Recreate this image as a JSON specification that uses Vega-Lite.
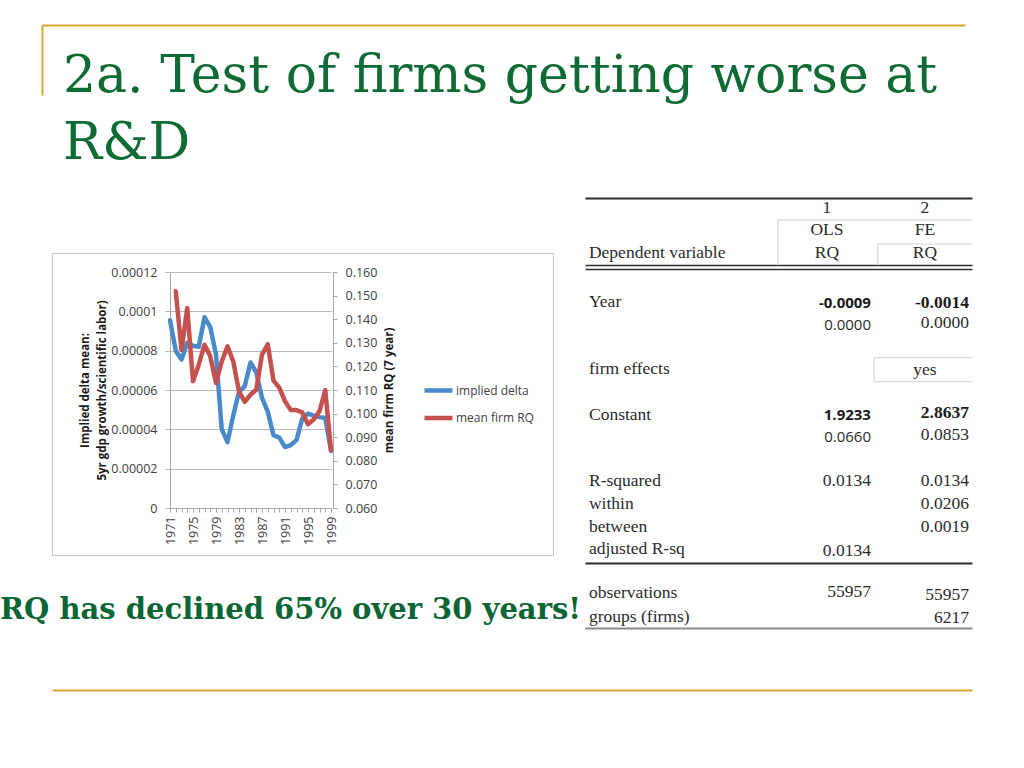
{
  "$schema": "https://vega.github.io/schema/vega-lite/v6.json",
  "width": 1024,
  "height": 768,
  "autosize": {"type": "fit", "contains": "padding"},
  "padding": 0,
  "background": "#ffffff",
  "config": {
    "view": {"stroke": null},
    "axis": {"labelFont": "Open Sans", "titleFont": "Open Sans"}
  },
  "datasets": {
    "frame": [{"pos": 0}, {"pos": 1}],
    "slideTitle": [{"pos": 0, "text": "2a. Test of firms getting worse at\nR&D"}],
    "slideNote": [{"pos": 0, "text": "RQ has declined 65% over 30 years!"}],
    "series": [
      {"year": 1971, "series": "implied delta", "value": 0.0000955},
      {"year": 1972, "series": "implied delta", "value": 0.0000800},
      {"year": 1973, "series": "implied delta", "value": 0.0000755},
      {"year": 1974, "series": "implied delta", "value": 0.0000840},
      {"year": 1975, "series": "implied delta", "value": 0.0000825},
      {"year": 1976, "series": "implied delta", "value": 0.0000820},
      {"year": 1977, "series": "implied delta", "value": 0.0000970},
      {"year": 1978, "series": "implied delta", "value": 0.0000920},
      {"year": 1979, "series": "implied delta", "value": 0.0000780},
      {"year": 1980, "series": "implied delta", "value": 0.0000400},
      {"year": 1981, "series": "implied delta", "value": 0.0000335},
      {"year": 1982, "series": "implied delta", "value": 0.0000470},
      {"year": 1983, "series": "implied delta", "value": 0.0000590},
      {"year": 1984, "series": "implied delta", "value": 0.0000620},
      {"year": 1985, "series": "implied delta", "value": 0.0000740},
      {"year": 1986, "series": "implied delta", "value": 0.0000690},
      {"year": 1987, "series": "implied delta", "value": 0.0000560},
      {"year": 1988, "series": "implied delta", "value": 0.0000490},
      {"year": 1989, "series": "implied delta", "value": 0.0000370},
      {"year": 1990, "series": "implied delta", "value": 0.0000358},
      {"year": 1991, "series": "implied delta", "value": 0.0000310},
      {"year": 1992, "series": "implied delta", "value": 0.0000320},
      {"year": 1993, "series": "implied delta", "value": 0.0000345},
      {"year": 1994, "series": "implied delta", "value": 0.0000455},
      {"year": 1995, "series": "implied delta", "value": 0.0000480},
      {"year": 1996, "series": "implied delta", "value": 0.0000470},
      {"year": 1997, "series": "implied delta", "value": 0.0000462},
      {"year": 1998, "series": "implied delta", "value": 0.0000458},
      {"year": 1999, "series": "implied delta", "value": 0.0000290},
      {"year": 1972, "series": "mean firm RQ", "value": 0.1518},
      {"year": 1973, "series": "mean firm RQ", "value": 0.1270},
      {"year": 1974, "series": "mean firm RQ", "value": 0.1447},
      {"year": 1975, "series": "mean firm RQ", "value": 0.1137},
      {"year": 1976, "series": "mean firm RQ", "value": 0.1207},
      {"year": 1977, "series": "mean firm RQ", "value": 0.1292},
      {"year": 1978, "series": "mean firm RQ", "value": 0.1243},
      {"year": 1979, "series": "mean firm RQ", "value": 0.1130},
      {"year": 1980, "series": "mean firm RQ", "value": 0.1221},
      {"year": 1981, "series": "mean firm RQ", "value": 0.1285},
      {"year": 1982, "series": "mean firm RQ", "value": 0.1221},
      {"year": 1983, "series": "mean firm RQ", "value": 0.1094},
      {"year": 1984, "series": "mean firm RQ", "value": 0.1050},
      {"year": 1985, "series": "mean firm RQ", "value": 0.1080},
      {"year": 1986, "series": "mean firm RQ", "value": 0.1101},
      {"year": 1987, "series": "mean firm RQ", "value": 0.1250},
      {"year": 1988, "series": "mean firm RQ", "value": 0.1294},
      {"year": 1989, "series": "mean firm RQ", "value": 0.1140},
      {"year": 1990, "series": "mean firm RQ", "value": 0.1110},
      {"year": 1991, "series": "mean firm RQ", "value": 0.1052},
      {"year": 1992, "series": "mean firm RQ", "value": 0.1015},
      {"year": 1993, "series": "mean firm RQ", "value": 0.1015},
      {"year": 1994, "series": "mean firm RQ", "value": 0.1005},
      {"year": 1995, "series": "mean firm RQ", "value": 0.0955},
      {"year": 1996, "series": "mean firm RQ", "value": 0.0975},
      {"year": 1997, "series": "mean firm RQ", "value": 0.1010},
      {"year": 1998, "series": "mean firm RQ", "value": 0.1100},
      {"year": 1999, "series": "mean firm RQ", "value": 0.0845}
    ],
    "table": [
      {"row": 0, "col": 1, "kind": "head", "text": "1"},
      {"row": 0, "col": 2, "kind": "head", "text": "2"},
      {"row": 1, "col": 1, "kind": "head", "text": "OLS"},
      {"row": 1, "col": 2, "kind": "head", "text": "FE"},
      {"row": 2, "col": 0, "kind": "label", "text": "Dependent variable"},
      {"row": 2, "col": 1, "kind": "head", "text": "RQ"},
      {"row": 2, "col": 2, "kind": "head", "text": "RQ"},
      {"row": 4.13, "col": 0, "kind": "label", "text": "Year"},
      {"row": 4.2, "col": 1, "kind": "bsans", "text": "-0.0009"},
      {"row": 4.17, "col": 2, "kind": "bserif", "text": "-0.0014"},
      {"row": 5.15, "col": 1, "kind": "sans", "text": "0.0000"},
      {"row": 5.08, "col": 2, "kind": "serif", "text": "0.0000"},
      {"row": 7.09, "col": 0, "kind": "label", "text": "firm effects"},
      {"row": 7.12, "col": 2, "kind": "head", "text": "yes"},
      {"row": 9.08, "col": 0, "kind": "label", "text": "Constant"},
      {"row": 9.1, "col": 1, "kind": "bsans", "text": "1.9233"},
      {"row": 9.03, "col": 2, "kind": "bserif", "text": "2.8637"},
      {"row": 10.05, "col": 1, "kind": "sans", "text": "0.0660"},
      {"row": 9.98, "col": 2, "kind": "serif", "text": "0.0853"},
      {"row": 12, "col": 0, "kind": "label", "text": "R-squared"},
      {"row": 12, "col": 1, "kind": "serif", "text": "0.0134"},
      {"row": 12, "col": 2, "kind": "serif", "text": "0.0134"},
      {"row": 13, "col": 0, "kind": "label", "text": "within"},
      {"row": 13, "col": 2, "kind": "serif", "text": "0.0206"},
      {"row": 14, "col": 0, "kind": "label", "text": "between"},
      {"row": 14, "col": 2, "kind": "serif", "text": "0.0019"},
      {"row": 15, "col": 0, "kind": "label", "text": "adjusted R-sq"},
      {"row": 15.07, "col": 1, "kind": "serif", "text": "0.0134"},
      {"row": 16.93, "col": 0, "kind": "label", "text": "observations"},
      {"row": 16.88, "col": 1, "kind": "serif", "text": "55957"},
      {"row": 17.0, "col": 2, "kind": "serif", "text": "55957"},
      {"row": 17.95, "col": 0, "kind": "label", "text": "groups (firms)"},
      {"row": 18.0, "col": 2, "kind": "serif", "text": "6217"}
    ],
    "tableRules": [
      {"x1": 0.051, "x2": 2.031, "y1": 0.54, "y2": 0.54},
      {"x1": 0.051, "x2": 0.051, "y1": 0.54, "y2": 2.53},
      {"x1": 1.071, "x2": 2.031, "y1": 1.594, "y2": 1.594},
      {"x1": 1.071, "x2": 1.071, "y1": 1.594, "y2": 2.53},
      {"x1": 1.031, "x2": 2.031, "y1": 6.585, "y2": 6.585},
      {"x1": 1.031, "x2": 2.031, "y1": 7.64, "y2": 7.64},
      {"x1": 1.031, "x2": 1.031, "y1": 6.585, "y2": 7.64}
    ]
  },
  "layer": [
    {
      "data": {"name": "frame"},
      "mark": {"type": "point", "opacity": 0},
      "encoding": {
        "x": {"field": "pos", "type": "quantitative",
              "scale": {"domain": [0, 1], "range": [52, 553], "nice": false, "zero": false},
              "axis": {"orient": "bottom", "offset": -213, "domain": true, "domainColor": "#c6c6c6", "domainWidth": 1, "ticks": false, "labels": false, "grid": false, "title": null}},
        "y": {"field": "pos", "type": "quantitative",
              "scale": {"domain": [0, 1], "range": [555, 253], "nice": false, "zero": false},
              "axis": {"orient": "left", "offset": -52, "domain": true, "domainColor": "#c6c6c6", "domainWidth": 1, "ticks": false, "labels": false, "grid": false, "title": null}}
      }
    },
    {
      "data": {"name": "frame"},
      "mark": {"type": "point", "opacity": 0},
      "encoding": {
        "x": {"field": "pos", "type": "quantitative",
              "scale": {"domain": [0, 1], "range": [52, 553], "nice": false, "zero": false},
              "axis": {"orient": "top", "offset": -253, "domain": true, "domainColor": "#c6c6c6", "domainWidth": 1, "ticks": false, "labels": false, "grid": false, "title": null}},
        "y": {"field": "pos", "type": "quantitative",
              "scale": {"domain": [0, 1], "range": [555, 253], "nice": false, "zero": false},
              "axis": {"orient": "right", "offset": -471, "domain": true, "domainColor": "#c6c6c6", "domainWidth": 1, "ticks": false, "labels": false, "grid": false, "title": null}}
      }
    },
    {
      "data": {"name": "slideTitle"},
      "mark": {"type": "text", "align": "left", "baseline": "alphabetic", "dx": 21, "dy": -3,
               "font": "DejaVu Serif", "fontSize": 52, "color": "#0E6B36", "lineBreak": "\n", "lineHeight": 67},
      "encoding": {
        "x": {"field": "pos", "type": "quantitative",
              "scale": {"domain": [0, 1], "range": [42, 965], "nice": false, "zero": false},
              "axis": {"orient": "top", "offset": -25, "domain": true, "domainColor": "#D6A52B", "domainWidth": 2, "ticks": false, "labels": false, "grid": false, "title": null}},
        "y": {"field": "pos", "type": "quantitative",
              "scale": {"domain": [0, 1], "range": [95, 25], "nice": false, "zero": false},
              "axis": {"orient": "left", "offset": -42, "domain": true, "domainColor": "#D6A52B", "domainWidth": 2, "ticks": false, "labels": false, "grid": false, "title": null}},
        "text": {"field": "text", "type": "nominal"}
      }
    },
    {
      "data": {"name": "series"},
      "layer": [
        {
          "transform": [{"filter": "datum.series == 'implied delta'"}],
          "mark": {"type": "line", "strokeWidth": 4.5, "strokeJoin": "round", "strokeCap": "round"},
          "encoding": {
            "x": {"field": "year", "type": "quantitative",
                  "scale": {"domain": [1971, 1999], "range": [170, 331], "nice": false, "zero": false},
                  "axis": {"orient": "bottom", "offset": -260, "values": [1971,1972,1973,1974,1975,1976,1977,1978,1979,1980,1981,1982,1983,1984,1985,1986,1987,1988,1989,1990,1991,1992,1993,1994,1995,1996,1997,1998,1999],
                           "labelExpr": "(datum.value - 1971) % 4 == 0 ? format(datum.value, 'd') : ''",
                           "labelAngle": -90, "labelFontSize": 12.5, "labelColor": "#404040", "labelPadding": 4,
                           "tickSize": 4, "tickColor": "#a6a6a6", "domainColor": "#a6a6a6", "grid": false, "title": null, "labelOverlap": false}},
            "y": {"field": "value", "type": "quantitative",
                  "scale": {"domain": [0, 0.00012], "range": [508, 272], "nice": false, "zero": false},
                  "axis": {"orient": "left", "offset": -170, "values": [0, 0.00002, 0.00004, 0.00006, 0.00008, 0.0001, 0.00012],
                           "labelExpr": "datum.value == 0 ? '0' : format(datum.value, '.5~f')",
                           "labelFontSize": 12.5, "labelColor": "#404040", "labelPadding": 8,
                           "tickSize": 5, "tickColor": "#b5b5b5", "domainColor": "#a6a6a6",
                           "grid": true, "gridColor": "#b8b8b8", "gridWidth": 1,
                           "title": ["Implied delta mean:", "5yr gdp growth/scientific labor)"],
                           "titleFontSize": 11.5, "titleFontWeight": "bold", "titleColor": "#1a1a1a", "titlePadding": 3, "titleLineHeight": 17}},
            "color": {"field": "series", "type": "nominal",
                      "scale": {"domain": ["implied delta", "mean firm RQ"], "range": ["#4A8ACB", "#C5514E"]},
                      "legend": {"orient": "none", "legendX": 422, "legendY": 374, "title": null, "padding": 0,
                                 "symbolType": "stroke", "symbolSize": 784, "symbolStrokeWidth": 4.5,
                                 "labelFont": "Open Sans", "labelFontSize": 12, "labelColor": "#404040", "labelOffset": 1, "rowPadding": 1.5}}
          }
        },
        {
          "transform": [{"filter": "datum.series == 'mean firm RQ'"}],
          "mark": {"type": "line", "strokeWidth": 4.5, "strokeJoin": "round", "strokeCap": "round"},
          "encoding": {
            "x": {"field": "year", "type": "quantitative", "axis": null},
            "y": {"field": "value", "type": "quantitative",
                  "scale": {"domain": [0.06, 0.16], "range": [508, 272], "nice": false, "zero": false},
                  "axis": {"orient": "right", "offset": -691, "values": [0.06, 0.07, 0.08, 0.09, 0.1, 0.11, 0.12, 0.13, 0.14, 0.15, 0.16],
                           "format": ".3f", "labelFontSize": 12.5, "labelColor": "#404040", "labelPadding": 8,
                           "tickSize": 4, "tickColor": "#a6a6a6", "domainColor": "#a6a6a6", "grid": false,
                           "title": "mean firm RQ (7 year)", "titleFontSize": 11.5, "titleFontWeight": "bold", "titleColor": "#1a1a1a",
                           "titleAngle": 270, "titleBaseline": "top", "titlePadding": 7}},
            "color": {"field": "series", "type": "nominal", "legend": null}
          }
        }
      ],
      "resolve": {"scale": {"y": "independent"}, "axis": {"x": "independent", "y": "independent"}}
    },
    {
      "layer": [
        {
          "data": {"name": "tableRules"},
          "mark": {"type": "rule", "color": "#cfcfcf", "strokeWidth": 1},
          "encoding": {
            "x": {"field": "x1", "type": "quantitative", "scale": {"domain": [-1.918, 2.031], "range": [585, 972], "nice": false, "zero": false}, "axis": null},
            "x2": {"field": "x2"},
            "y": {"field": "y1", "type": "quantitative", "scale": {"domain": [-0.5, 18.5], "range": [196.3, 629.1], "nice": false, "zero": false},
                  "axis": {"orient": "left", "values": [-0.43, 2.53, 2.68, 15.58, 18.45], "domain": false, "ticks": false, "labels": false, "title": null,
                           "grid": true,
                           "gridColor": {"condition": {"test": "datum.value > 18", "value": "#8a8a8a"}, "value": "#2e2e2e"},
                           "gridWidth": {"condition": {"test": "datum.value > 2 && datum.value < 3", "value": 1.3}, "value": 2}}},
            "y2": {"field": "y2"}
          }
        },
        {
          "data": {"name": "table"},
          "transform": [{"filter": "datum.kind == 'label'"}],
          "mark": {"type": "text", "align": "left", "baseline": "middle", "dx": -184, "font": "Liberation Serif", "fontSize": 17.5, "color": "#2b2b2b"},
          "encoding": {
            "x": {"field": "col", "type": "quantitative", "axis": null},
            "y": {"field": "row", "type": "quantitative", "axis": null},
            "text": {"field": "text", "type": "nominal"}
          }
        },
        {
          "data": {"name": "table"},
          "transform": [{"filter": "datum.kind == 'head'"}],
          "mark": {"type": "text", "align": "center", "baseline": "middle", "dx": -44, "font": "Liberation Serif", "fontSize": 17.5, "color": "#2b2b2b"},
          "encoding": {
            "x": {"field": "col", "type": "quantitative", "axis": null},
            "y": {"field": "row", "type": "quantitative", "axis": null},
            "text": {"field": "text", "type": "nominal"}
          }
        },
        {
          "data": {"name": "table"},
          "transform": [{"filter": "datum.kind == 'serif'"}],
          "mark": {"type": "text", "align": "right", "baseline": "middle", "font": "Liberation Serif", "fontSize": 17.5, "color": "#2b2b2b"},
          "encoding": {
            "x": {"field": "col", "type": "quantitative", "axis": null},
            "y": {"field": "row", "type": "quantitative", "axis": null},
            "text": {"field": "text", "type": "nominal"}
          }
        },
        {
          "data": {"name": "table"},
          "transform": [{"filter": "datum.kind == 'bserif'"}],
          "mark": {"type": "text", "align": "right", "baseline": "middle", "font": "Liberation Serif", "fontWeight": "bold", "fontSize": 17.5, "color": "#1a1a1a"},
          "encoding": {
            "x": {"field": "col", "type": "quantitative", "axis": null},
            "y": {"field": "row", "type": "quantitative", "axis": null},
            "text": {"field": "text", "type": "nominal"}
          }
        },
        {
          "data": {"name": "table"},
          "transform": [{"filter": "datum.kind == 'sans'"}],
          "mark": {"type": "text", "align": "right", "baseline": "middle", "font": "Open Sans", "fontSize": 15, "color": "#2b2b2b"},
          "encoding": {
            "x": {"field": "col", "type": "quantitative", "axis": null},
            "y": {"field": "row", "type": "quantitative", "axis": null},
            "text": {"field": "text", "type": "nominal"}
          }
        },
        {
          "data": {"name": "table"},
          "transform": [{"filter": "datum.kind == 'bsans'"}],
          "mark": {"type": "text", "align": "right", "baseline": "middle", "font": "Open Sans", "fontWeight": "bold", "fontSize": 15, "color": "#1a1a1a"},
          "encoding": {
            "x": {"field": "col", "type": "quantitative", "axis": null},
            "y": {"field": "row", "type": "quantitative", "axis": null},
            "text": {"field": "text", "type": "nominal"}
          }
        }
      ],
      "resolve": {"axis": {"x": "independent", "y": "independent"}}
    },
    {
      "data": {"name": "slideNote"},
      "mark": {"type": "text", "align": "left", "baseline": "alphabetic", "dx": -52, "dy": -71,
               "font": "DejaVu Serif", "fontWeight": "bold", "fontSize": 29, "color": "#0B6534"},
      "encoding": {
        "x": {"field": "pos", "type": "quantitative",
              "scale": {"domain": [0, 1], "range": [52, 972], "nice": false, "zero": false},
              "axis": {"orient": "bottom", "offset": -78, "domain": true, "domainColor": "#D6A52B", "domainWidth": 2, "ticks": false, "labels": false, "grid": false, "title": null}},
        "y": {"field": "pos", "type": "quantitative",
              "scale": {"domain": [0, 1], "range": [690, 600], "nice": false, "zero": false},
              "axis": null},
        "text": {"field": "text", "type": "nominal"}
      }
    }
  ],
  "resolve": {
    "scale": {"x": "independent", "y": "independent"},
    "axis": {"x": "independent", "y": "independent"}
  }
}
